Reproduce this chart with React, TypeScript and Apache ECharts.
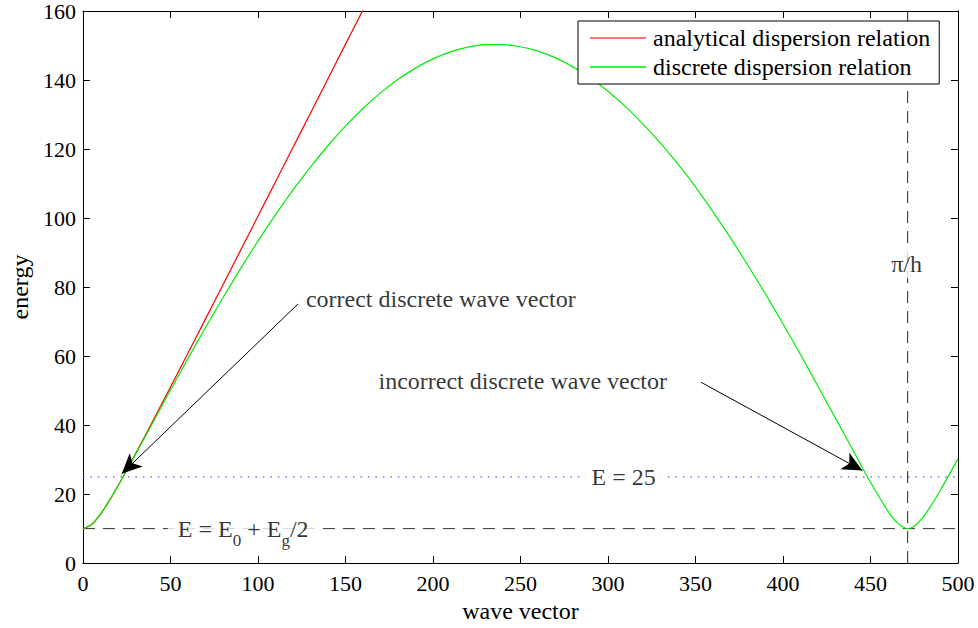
import React, { useEffect, useRef } from "react";
import * as echarts from "echarts";

const FONT = '"Liberation Serif", "Times New Roman", Times, serif';

// discrete dispersion relation
const discreteK = [0, 5, 10, 15, 20, 25, 30, 40, 50, 60, 70, 80, 90, 100, 110, 120, 130, 140, 150, 160, 170, 180, 190, 200, 210, 220, 230, 240, 250, 260, 270, 280, 290, 300, 310, 320, 330, 340, 350, 360, 370, 380, 390, 400, 410, 420, 430, 440, 450, 460, 465, 470, 471.2, 475, 480, 485, 490, 500];
const discreteE = [10, 11.18, 14.14, 18.01, 22.31, 26.82, 31.43, 40.77, 50.09, 59.26, 68.22, 76.91, 85.28, 93.3, 100.9, 108.07, 114.76, 120.95, 126.62, 131.73, 136.28, 140.16, 143.45, 146.12, 148.15, 149.52, 150.23, 150.27, 149.64, 148.38, 146.42, 143.81, 140.57, 136.76, 132.28, 127.23, 121.69, 115.61, 109.06, 101.81, 94.25, 86.24, 77.97, 69.36, 60.47, 51.24, 42.02, 32.7, 23.41, 15.04, 11.79, 10.08, 10, 10.68, 13.29, 16.99, 21.2, 30.27];

// analytical dispersion relation
const analyticalK = [0, 5, 10, 15, 20, 25, 30, 40, 50, 60, 70, 80, 90, 100, 110, 120, 130, 140, 150, 160, 170];
const analyticalE = [10, 11.18, 14.14, 18.03, 22.36, 26.93, 31.62, 41.23, 50.99, 60.83, 70.71, 80.62, 90.55, 100.5, 110.45, 120.42, 130.38, 140.36, 150.33, 160.31, 170.29];

// reference levels
const bandEdgeEnergy = 10; // E = E0 + Eg/2
const sampleEnergy = 25; // E = 25
const piOverH = 471.24;

// axes
const xMin = 0, xMax = 500, xStep = 50;
const yMin = 0, yMax = 160, yStep = 20;

// annotation arrows (data coordinates: tail -> head)
const arrowTails = [[122.9, 75.1], [353.2, 52.4]];
const arrowHeads = [[22.2, 25.9], [445.4, 26.8]];

// annotation texts
const leftTexts = [
  { text: "correct discrete wave vector", at: [127.4, 76.5] },
  { text: "incorrect discrete wave vector", at: [168.9, 52.7] },
];
const centerTexts = [
  { text: "E = 25", at: [309, 25] },
  { text: "E = E{sub|0} + E{sub|g}/2", at: [91.6, 10] },
  { text: "π/h", at: [470.6, 86.6] },
];

const zip = (a: number[], b: number[]) => a.map((v, i) => [v, b[i]]);

export default function App() {
  const ref = useRef<HTMLDivElement>(null);
  useEffect(() => {
    if (!ref.current) return;
    const chart = echarts.init(ref.current, undefined, { renderer: "svg" });
    const axisCommon = {
      type: "value" as const,
      axisLine: { show: true, onZero: false, lineStyle: { color: "#000", width: 1 } },
      axisTick: { show: true, inside: true, length: 7, lineStyle: { color: "#000" } },
      splitLine: { show: false },
    };
    const labelStyle = { color: "#000", fontFamily: FONT, fontSize: 22 };
    chart.setOption({
      animation: false,
      backgroundColor: "#fff",
      grid: { left: 79, right: 20, top: 10, bottom: 62 },
      legend: {
        left: 578,
        top: 21,
        orient: "vertical",
        data: [
          { name: "analytical dispersion relation", icon: "rect" },
          { name: "discrete dispersion relation", icon: "rect" },
        ],
        itemWidth: 56,
        itemHeight: 1.5,
        itemGap: 5,
        padding: [5, 9, 5, 12],
        borderColor: "#000",
        borderWidth: 1,
        backgroundColor: "#fff",
        borderRadius: 0,
        textStyle: { color: "#000", fontFamily: FONT, fontSize: 24, padding: [0, 0, 0, 2] },
        z: 20,
      },
      xAxis: [
        {
          ...axisCommon,
          position: "bottom",
          min: xMin,
          max: xMax,
          interval: xStep,
          axisLabel: { ...labelStyle, margin: 9 },
          name: "wave vector",
          nameLocation: "middle",
          nameGap: 31,
          nameTextStyle: { color: "#000", fontFamily: FONT, fontSize: 24 },
        },
        {
          ...axisCommon,
          position: "top",
          min: xMin,
          max: xMax,
          interval: xStep,
          axisLabel: { show: false },
        },
      ],
      yAxis: [
        {
          ...axisCommon,
          position: "left",
          min: yMin,
          max: yMax,
          interval: yStep,
          axisLabel: { ...labelStyle, margin: 7 },
          name: "energy",
          nameLocation: "middle",
          nameGap: 48,
          nameTextStyle: { color: "#000", fontFamily: FONT, fontSize: 24 },
        },
        {
          ...axisCommon,
          position: "right",
          min: yMin,
          max: yMax,
          interval: yStep,
          axisLabel: { show: false },
        },
      ],
      series: [
        {
          name: "vertical",
          type: "line",
          symbol: "none",
          data: [[piOverH, yMin], [piOverH, yMax]],
          lineStyle: { color: "#222", width: 1, type: [12, 8] },
          z: 1,
        },
        {
          name: "bandEdge",
          type: "line",
          symbol: "none",
          data: [[xMin, bandEdgeEnergy], [xMax, bandEdgeEnergy]],
          lineStyle: { color: "#333", width: 1, type: [12, 8] },
          z: 1,
          markLine: {
            silent: true,
            symbol: ["none", "arrow"],
            symbolSize: [14, 20],
            label: { show: false },
            lineStyle: { color: "#000", width: 1, type: "solid" },
            data: arrowTails.map((t, i) => [{ coord: t }, { coord: arrowHeads[i] }]),
          },
        },
        {
          name: "sample",
          type: "line",
          symbol: "none",
          data: [[xMin, sampleEnergy], [xMax, sampleEnergy]],
          lineStyle: { color: "#5555ff", width: 1.2, type: [1.5, 6] },
          z: 1,
        },
        {
          name: "analytical dispersion relation",
          type: "line",
          symbol: "none",
          smooth: 0.3,
          clip: true,
          data: zip(analyticalK, analyticalE),
          lineStyle: { color: "#ff0000", width: 1.2 },
          itemStyle: { color: "#ff4444" },
          z: 3,
        },
        {
          name: "discrete dispersion relation",
          type: "line",
          symbol: "none",
          smooth: 0.3,
          clip: true,
          data: zip(discreteK, discreteE),
          lineStyle: { color: "#00ee00", width: 1.2 },
          itemStyle: { color: "#00ee00" },
          z: 3,
        },
        {
          name: "leftTexts",
          type: "scatter",
          symbolSize: 0,
          silent: true,
          z: 10,
          data: leftTexts.map((t) => ({ value: t.at, label: { formatter: t.text } })),
          label: {
            show: true,
            position: "right",
            distance: 0,
            color: "#000",
            fontFamily: FONT,
            fontSize: 24,
          },
        },
        {
          name: "centerTexts",
          type: "scatter",
          symbolSize: 0,
          silent: true,
          z: 10,
          data: centerTexts.map((t) => ({ value: t.at, label: { formatter: t.text } })),
          label: {
            show: true,
            position: "inside",
            color: "#000",
            fontFamily: FONT,
            fontSize: 24,
            backgroundColor: "#fff",
            padding: [2, 10],
            rich: {
              sub: {
                color: "#000",
                fontFamily: FONT,
                fontSize: 17,
                padding: [24, 0, 0, 0],
              },
            },
          },
        },
      ],
    });
    return () => chart.dispose();
  }, []);
  return (
    <div
      ref={ref}
      style={{ position: "fixed", left: 0, top: 0, width: 978, height: 628, background: "#fff" }}
    />
  );
}
